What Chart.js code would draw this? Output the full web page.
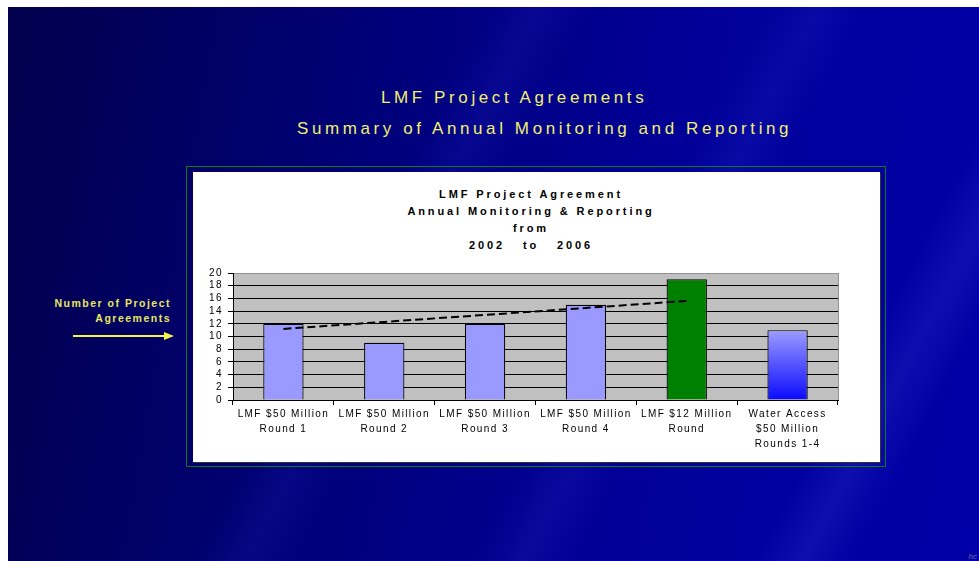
<!DOCTYPE html>
<html>
<head>
<meta charset="utf-8">
<script src="https://cdn.jsdelivr.net/npm/chart.js@4/dist/chart.umd.min.js"></script>
<style>
  html, body { margin: 0; padding: 0; background: #fff; }
  body { width: 979px; height: 561px; position: relative; overflow: hidden; font-family: "Liberation Sans", Arial, sans-serif; }
  .slide {
    position: absolute; left: 8px; top: 7px; width: 971px; height: 554px;
    background:
      linear-gradient(118deg, rgba(0,0,0,0) 38%, rgba(40,40,200,0.18) 42%, rgba(0,0,0,0) 46%, rgba(0,0,0,0) 60%, rgba(60,60,220,0.15) 64%, rgba(0,0,0,0) 68%, rgba(0,0,0,0) 82%, rgba(80,80,230,0.18) 86%, rgba(0,0,0,0) 90%),
      linear-gradient(100deg, #00004c 0%, #000078 35%, #000098 65%, #0000a8 100%);
  }
  .head { position: absolute; color: #f0f070; font-size: 17px; letter-spacing: 3.6px; white-space: nowrap; line-height: 20px; }
  .side { position: absolute; color: #e8e860; font-size: 10.5px; font-weight: bold; letter-spacing: 1.5px; text-align: right; line-height: 15px; right: 808px; top: 296px; }
  .frame { position: absolute; left: 186px; top: 166px; width: 698px; height: 299px; border: 1.5px solid #0a7a1a; }
  .panel { position: absolute; left: 193px; top: 172px; width: 687px; height: 290px; background: #fff; box-shadow: 1px 1px 0 #333; }
  .ctitle { position: absolute; left: 331px; top: 186px; width: 400px; text-align: center; font-weight: bold; font-size: 11px; letter-spacing: 2.9px; line-height: 17px; color: #000; white-space: pre; }
  #chartWrap { position: absolute; left: 193px; top: 172px; width: 687px; height: 290px; }
  .mark { position: absolute; right: 2px; bottom: 0; font-size: 8px; color: #7070a0; font-style: italic; }
</style>
</head>
<body>
<div class="slide"></div>
<div class="head" style="left:381px; top:88px;">LMF Project Agreements</div>
<div class="head" style="left:297px; top:119px;">Summary of Annual Monitoring and Reporting</div>
<div class="side">Number of Project<br>Agreements</div>
<svg style="position:absolute; left:70px; top:330px;" width="110" height="12">
  <line x1="3" y1="6" x2="96" y2="6" stroke="#f4f44a" stroke-width="2"/>
  <polygon points="94,2 104,6 94,10" fill="#f4f44a"/>
</svg>
<div class="frame"></div>
<div class="panel"></div>
<div class="ctitle">LMF Project Agreement
Annual Monitoring &amp; Reporting
from
2002   to   2006</div>
<div id="chartWrap"><canvas id="chart"></canvas></div>
<div class="mark">hc</div>

<script>
const categories = [
  ['LMF $50 Million', 'Round 1'],
  ['LMF $50 Million', 'Round 2'],
  ['LMF $50 Million', 'Round 3'],
  ['LMF $50 Million', 'Round 4'],
  ['LMF $12 Million', 'Round'],
  ['Water Access', '$50 Million', 'Rounds 1-4']
];
const agreements = [12, 9, 12, 15, 19, 11];
const trend = [11.2, 12.3, 13.4, 14.5, 15.6, null];
const barColors = ['#9999ff', '#9999ff', '#9999ff', '#9999ff', '#008000', 'gradient'];

const spacing = {
  id: 'spacing',
  beforeUpdate(chart) { chart.ctx.letterSpacing = '1.4px'; },
  beforeDraw(chart) {
    const ctx = chart.ctx, a = chart.chartArea;
    ctx.letterSpacing = '1.4px';
    ctx.save();
    ctx.fillStyle = '#c0c0c0';
    ctx.fillRect(a.left, a.top, a.right - a.left, a.bottom - a.top);
    ctx.restore();
  },
  beforeDatasetsDraw(chart) {
    const ctx = chart.ctx, a = chart.chartArea;
    ctx.save();
    ctx.strokeStyle = '#909090';
    ctx.lineWidth = 1;
    ctx.beginPath();
    ctx.moveTo(a.right + 0.5, a.top);
    ctx.lineTo(a.right + 0.5, a.bottom);
    ctx.stroke();
    ctx.restore();
  }
};

function barFill(c) {
  const col = barColors[c.dataIndex];
  if (col !== 'gradient') return col;
  const chart = c.chart;
  if (!chart.chartArea) return '#9999ff';
  const y = chart.scales.y;
  const g = chart.ctx.createLinearGradient(0, y.getPixelForValue(agreements[c.dataIndex]), 0, y.getPixelForValue(0));
  g.addColorStop(0, '#9c9cff');
  g.addColorStop(1, '#0a0aff');
  return g;
}

new Chart(document.getElementById('chart'), {
  type: 'bar',
  data: {
    labels: categories,
    datasets: [
      {
        type: 'line',
        data: trend,
        borderColor: '#000',
        borderWidth: 2,
        borderDash: [8, 4],
        pointRadius: 0,
        fill: false,
        order: 0
      },
      {
        data: agreements,
        backgroundColor: barFill,
        borderColor: '#000',
        borderWidth: 1.2,
        barPercentage: 0.4,
        categoryPercentage: 1,
        order: 1
      }
    ]
  },
  options: {
    responsive: true,
    maintainAspectRatio: false,
    animation: false,
    layout: { padding: { top: 101, right: 42, left: 0, bottom: 0 } },
    plugins: { legend: { display: false }, tooltip: { enabled: false }, title: { display: false } },
    scales: {
      x: {
        grid: { offset: true, drawOnChartArea: false, color: '#000', tickLength: 5 },
        border: { color: '#000' },
        ticks: { color: '#000', font: { family: 'Liberation Sans', size: 10, lineHeight: 1.5 }, padding: 2, maxRotation: 0, autoSkip: false },
        afterFit(s) { s.height = 62; }
      },
      y: {
        min: 0,
        max: 20,
        grid: {
          color: c => (c.tick && c.tick.value === 20 ? '#909090' : '#000'),
          tickColor: '#000',
          tickLength: 5
        },
        border: { color: '#000' },
        ticks: { stepSize: 2, autoSkip: false, color: '#000', font: { family: 'Liberation Sans', size: 10 }, padding: 5 },
        afterFit(s) { s.width = 40; }
      }
    }
  },
  plugins: [spacing]
});
</script>
</body>
</html>
